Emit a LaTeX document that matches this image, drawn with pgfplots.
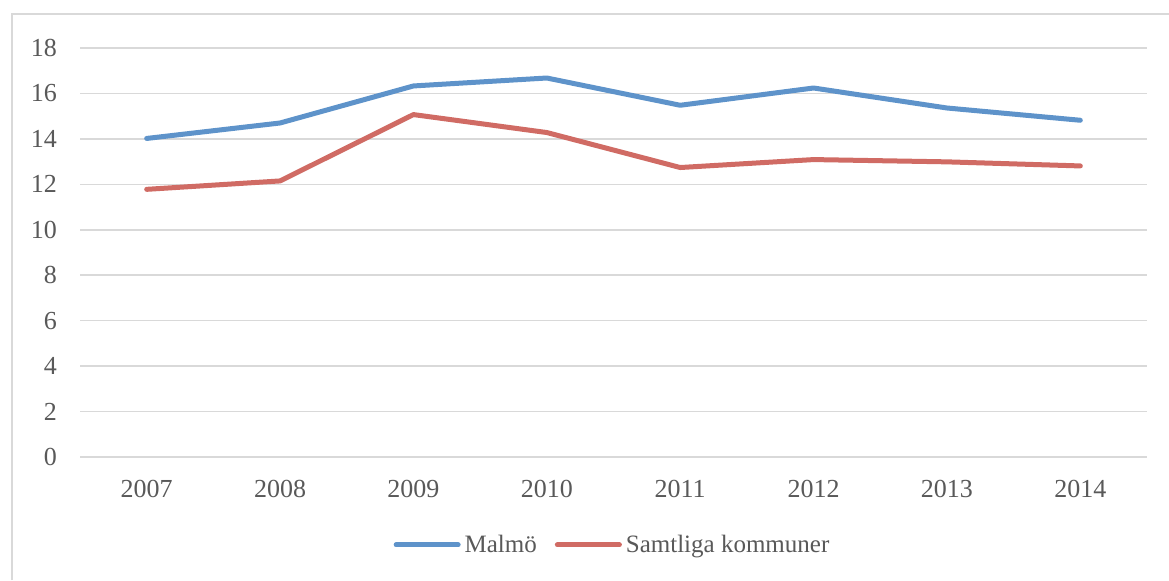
\documentclass[border=0pt]{standalone}
\usepackage{pgfplots}
\pgfplotsset{compat=1.18}
\usepackage{fontspec}
\setmainfont{Liberation Serif}
\definecolor{mblue}{HTML}{5E93CA}
\definecolor{mred}{HTML}{D06B64}
\definecolor{gridc}{HTML}{D9D9D9}
\definecolor{txt}{HTML}{595959}
\begin{document}
\begin{tikzpicture}
% reference pixel frame scaled by 0.5pt: (0,0) top-left, y downward
\path[use as bounding box] (0pt,0pt) rectangle (584.5pt,-290pt);
\draw[gridc, line width=1pt] (6pt,-290pt) -- (6pt,-6.75pt) -- (584.5pt,-6.75pt);
\begin{axis}[
  at={(40pt,-228.5pt)}, anchor=south west,
  scale only axis,
  width=533.5pt, height=204.5pt,
  xmin=-0.5, xmax=7.5,
  ymin=0, ymax=18,
  ytick={0,2,...,18},
  xtick={0,...,7},
  xticklabels={2007,2008,2009,2010,2011,2012,2013,2014},
  axis line style={draw=none},
  major tick length=0pt,
  ymajorgrids,
  grid style={gridc, line width=0.8pt},
  tick label style={font=\fontsize{13}{15}\selectfont, text=txt},
  /pgf/number format/assume math mode=true,
  yticklabel style={xshift=-8pt},
  xticklabel style={yshift=-8pt},
  legend style={at={(0.5,-0.215)}, anchor=center, draw=none, legend columns=2,
    font=\fontsize{12.5}{15}\selectfont, text=txt,
    /tikz/every even column/.append style={column sep=7pt},
    /tikz/every odd column/.append style={inner xsep=1pt}},
  legend image code/.code={\draw[#1, line cap=round] (0pt,0pt) -- (31pt,0pt);},
]
\addplot[mblue, line width=2.5pt, line cap=round, line join=round] coordinates {
(0,14.02) (1,14.70) (2,16.33) (3,16.68) (4,15.48) (5,16.24) (6,15.36) (7,14.82)};
\addlegendentry{Malmö}
\addplot[mred, line width=2.5pt, line cap=round, line join=round] coordinates {
(0,11.78) (1,12.15) (2,15.07) (3,14.28) (4,12.74) (5,13.09) (6,12.99) (7,12.81)};
\addlegendentry{Samtliga kommuner}
\end{axis}
\end{tikzpicture}
\end{document}
